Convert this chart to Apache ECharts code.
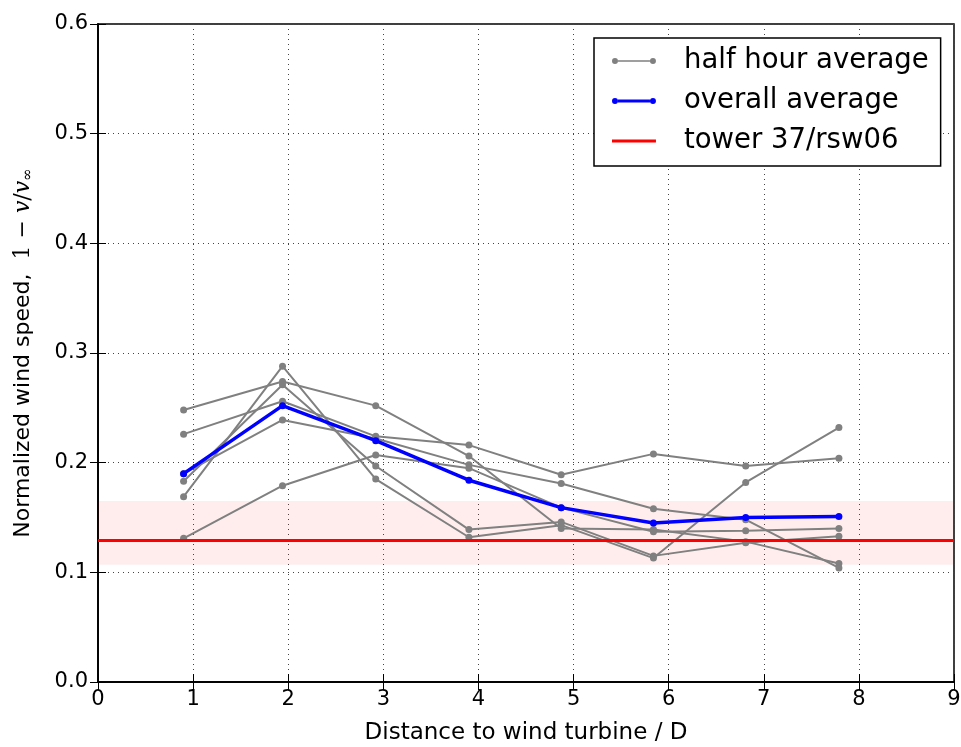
<!DOCTYPE html>
<html>
<head>
<meta charset="utf-8">
<script src="https://cdn.jsdelivr.net/npm/echarts@6/dist/echarts.min.js"></script>
<style>
  html, body { margin: 0; padding: 0; background: #fff; }
  #chart { width: 961px; height: 747px; }
</style>
</head>
<body>
<div id="chart"></div>
<script>
// distance to turbine (in rotor diameters D)
var distances = [0.9, 1.94, 2.92, 3.9, 4.87, 5.84, 6.81, 7.79];

// half hour averages, one array per run
var run1 = [0.169, 0.288, 0.185, 0.132, 0.143, 0.113, 0.182, 0.232];
var run2 = [0.183, 0.271, 0.197, 0.139, 0.146, 0.115, 0.127, 0.133];
var run3 = [0.248, 0.274, 0.252, 0.206, 0.140, 0.139, 0.128, 0.108];
var run4 = [0.226, 0.256, 0.224, 0.216, 0.189, 0.208, 0.197, 0.204];
var run5 = [0.190, 0.239, 0.222, 0.198, 0.181, 0.158, 0.148, 0.104];
var run6 = [0.131, 0.179, 0.207, 0.195, 0.159, 0.137, 0.138, 0.140];
var halfHourRuns = [run1, run2, run3, run4, run5, run6];

// overall average
var overall = [0.190, 0.252, 0.220, 0.184, 0.159, 0.145, 0.150, 0.151];

// tower 37/rsw06 reference value and its band
var towerValue = 0.129;
var bandLow = 0.107;
var bandHigh = 0.165;

var xTicks = [0, 1, 2, 3, 4, 5, 6, 7, 8, 9];
var yTicks = [0.0, 0.1, 0.2, 0.3, 0.4, 0.5, 0.6];

function pairs(xs, ys) {
  return xs.map(function (x, i) { return [x, ys[i]]; });
}

var FONT = 'DejaVu Sans';

// legend samples: line with a dot at each end (like matplotlib, numpoints=2)
var pad = 'M0,0h0.01v0.01h-0.01z M0,10h0.01v0.01h-0.01z ';
var dots = ' M0,5a3,3 0 1,1 6,0a3,3 0 1,1 -6,0 M38,5a3,3 0 1,1 6,0a3,3 0 1,1 -6,0';
var iconDots = 'path://' + pad + 'M6,4.2h32v1.6h-32z' + dots;
var iconDotsBold = 'path://' + pad + 'M6,3.4h32v3.2h-32z' + dots;
var iconLine = 'path://' + pad + 'M0,3.5h44v3h-44z';

var series = [];
halfHourRuns.forEach(function (run) {
  series.push({
    name: 'half hour average',
    type: 'line',
    data: pairs(distances, run),
    symbol: 'circle',
    symbolSize: 7,
    lineStyle: { color: '#808080', width: 2 },
    itemStyle: { color: '#808080' },
    z: 2
  });
});
series.push({
  name: 'overall average',
  type: 'line',
  data: pairs(distances, overall),
  symbol: 'circle',
  symbolSize: 7,
  lineStyle: { color: '#0000ff', width: 3.5 },
  itemStyle: { color: '#0000ff' },
  z: 3
});
series.push({
  name: 'tower 37/rsw06',
  type: 'line',
  data: [[xTicks[0], towerValue], [xTicks[xTicks.length - 1], towerValue]],
  symbol: 'none',
  lineStyle: { color: '#ff0000', width: 3 },
  itemStyle: { color: '#ff0000' },
  z: 4,
  markArea: {
    silent: true,
    itemStyle: { color: 'rgba(255,0,0,0.07)' },
    data: [[{ coord: [xTicks[0], bandLow] }, { coord: [xTicks[xTicks.length - 1], bandHigh] }]]
  }
});

var chart = echarts.init(document.getElementById('chart'));

var axisLine = { show: true, lineStyle: { color: '#000', width: 1.5 } };
var axisTick = { show: true, inside: true, length: 8, lineStyle: { color: '#000' } };
var dotted = { show: true, lineStyle: { color: '#444', type: [1, 4], width: 1 } };

chart.setOption({
  animation: false,
  textStyle: { fontFamily: FONT },
  grid: {
    left: 98, right: 7, top: 24, bottom: 65,
    outerBoundsMode: 'none', containLabel: false,
    show: true, borderColor: '#000', borderWidth: 1.5
  },
  legend: {
    orient: 'vertical',
    left: 594,
    top: 38,
    data: [
      { name: 'half hour average', icon: iconDots },
      { name: 'overall average', icon: iconDotsBold },
      { name: 'tower 37/rsw06', icon: iconLine }
    ],
    backgroundColor: '#fff',
    borderColor: '#000',
    borderWidth: 1.5,
    borderRadius: 0,
    padding: [9, 12, 11, 18],
    itemWidth: 44,
    itemHeight: 10,
    itemGap: 12,
    textStyle: { fontFamily: FONT, fontSize: 27.5, lineHeight: 28, color: '#000', padding: [0, 0, 0, 23] }
  },
  xAxis: [{
    type: 'value',
    min: 0, max: 9, interval: 1,
    name: 'Distance to wind turbine / D',
    nameLocation: 'middle',
    nameGap: 40,
    nameTextStyle: { fontFamily: FONT, fontSize: 23, color: '#000' },
    axisLabel: { fontFamily: FONT, fontSize: 21, color: '#000', margin: 7 },
    splitLine: dotted,
    axisLine: axisLine,
    axisTick: axisTick
  }, {
    type: 'value',
    position: 'top',
    min: 0, max: 9, interval: 1,
    axisLabel: { show: false },
    splitLine: { show: false },
    axisLine: axisLine,
    axisTick: axisTick
  }],
  yAxis: [{
    type: 'value',
    min: 0, max: 0.6, interval: 0.1,
    name: 'Normalized wind speed,  {m|1 − }{i|v}{m|/}{i|v}{s|∞}',
    nameLocation: 'middle',
    nameRotate: 90,
    nameGap: 62,
    nameTextStyle: {
      fontFamily: FONT, fontSize: 22, color: '#000',
      rich: {
        m: { fontFamily: 'DejaVu Serif', fontSize: 22, color: '#000' },
        i: { fontFamily: 'DejaVu Serif', fontStyle: 'italic', fontSize: 22, color: '#000' },
        s: { fontFamily: 'DejaVu Serif', fontStyle: 'italic', fontSize: 15, color: '#000', padding: [10, 0, 0, 0] }
      }
    },
    axisLabel: {
      fontFamily: FONT, fontSize: 21, color: '#000', margin: 10,
      formatter: function (v) { return v.toFixed(1); }
    },
    splitLine: dotted,
    axisLine: axisLine,
    axisTick: axisTick
  }, {
    type: 'value',
    position: 'right',
    min: 0, max: 0.6, interval: 0.1,
    axisLabel: { show: false },
    splitLine: { show: false },
    axisLine: axisLine,
    axisTick: axisTick
  }],
  series: series
});
</script>
</body>
</html>
